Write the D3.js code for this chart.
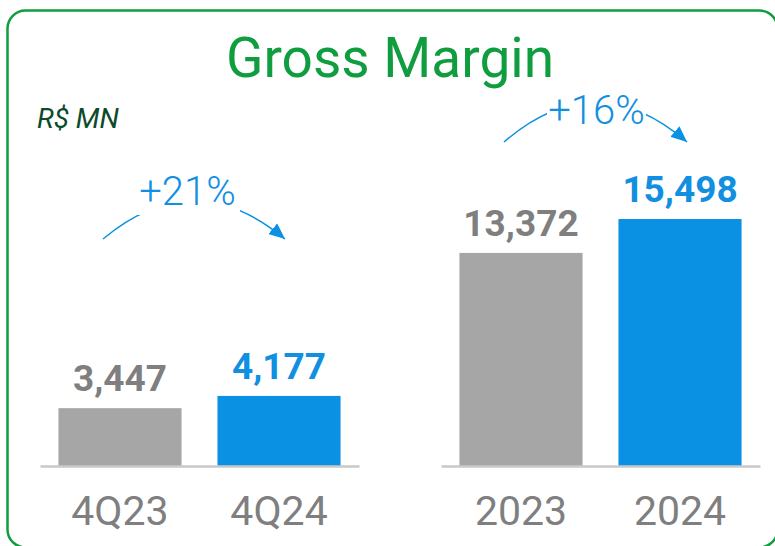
<!DOCTYPE html>
<html>
<head>
<meta charset="utf-8">
<script src="https://cdn.jsdelivr.net/npm/d3@7"></script>
<style>
  html, body { margin: 0; padding: 0; background: #ffffff; }
  svg { display: block; font-family: Roboto, "Noto Sans", sans-serif; }
</style>
</head>
<body>
<svg id="chart" width="775" height="546"></svg>
<script>
// ---- data ----
const quarterCategories = ["4Q23", "4Q24"];
const quarterValues = [3447, 4177];
const yearCategories = ["2023", "2024"];
const yearValues = [13372, 15498];
const growthLabels = ["+21%", "+16%"];
const titleText = "Gross Margin";
const unitText = "R$ MN";

// ---- styles ----
const GREEN = "#0f9d3f";
const DARK_GREEN = "#0c4a2c";
const GRAY_BAR = "#a6a6a6";
const GRAY_TEXT = "#7f7f7f";
const BLUE = "#0a91e3";
const BLUE_TEXT = "#118fe0";
const barColors = [GRAY_BAR, BLUE];
const labelColors = [GRAY_TEXT, BLUE_TEXT];

const svg = d3.select("#chart");

// frame
svg.append("rect")
  .attr("x", 7.5).attr("y", 10.5)
  .attr("width", 770).attr("height", 537)
  .attr("rx", 18).attr("ry", 18)
  .attr("fill", "none")
  .attr("stroke", GREEN)
  .attr("stroke-width", 2.5);

// title
svg.append("text")
  .attr("x", 390).attr("y", 77)
  .attr("text-anchor", "middle")
  .attr("font-size", 55)
  .attr("font-weight", 400)
  .attr("fill", GREEN)
  .text(titleText);

svg.append("text")
  .attr("x", 37).attr("y", 128)
  .attr("font-size", 28)
  .attr("font-style", "italic")
  .attr("fill", DARK_GREEN)
  .text(unitText);

// arrow marker
svg.append("defs").append("marker")
  .attr("id", "arrowhead")
  .attr("markerUnits", "userSpaceOnUse")
  .attr("viewBox", "0 0 16 14")
  .attr("markerWidth", 16).attr("markerHeight", 14)
  .attr("refX", 16).attr("refY", 7)
  .attr("orient", "auto")
  .append("path")
  .attr("d", "M0,0 L16,7 L0,14 Z")
  .attr("fill", BLUE);

const baseline = 466;

const panels = [
  { cats: quarterCategories, vals: quarterValues, growth: growthLabels[0],
    xRange: [40, 359], yDomainMax: 5000, yPx: 5000 * 0.01678,
    arc: { x0: 103, x1: 285, yEnd: 239, lift: 76 }, gTextY: 205, gap: [135, 240] },
  { cats: yearCategories, vals: yearValues, growth: growthLabels[1],
    xRange: [441, 760], yDomainMax: 20000, yPx: 20000 * 0.015935,
    arc: { x0: 504, x1: 687, yEnd: 142, lift: 79 }, gTextY: 124, gap: [547, 646] }
];

panels.forEach(p => {
  const x = d3.scaleBand()
    .domain(p.cats)
    .range(p.xRange)
    .paddingInner(0.226)
    .paddingOuter(0.116);
  const y = d3.scaleLinear()
    .domain([0, p.yDomainMax])
    .range([baseline, baseline - p.yPx]);

  const g = svg.append("g");

  g.selectAll("rect.bar")
    .data(p.vals)
    .join("rect")
    .attr("class", "bar")
    .attr("x", (d, i) => x(p.cats[i]))
    .attr("y", d => y(d))
    .attr("width", x.bandwidth())
    .attr("height", d => baseline - y(d))
    .attr("fill", (d, i) => barColors[i]);

  g.selectAll("text.val")
    .data(p.vals)
    .join("text")
    .attr("class", "val")
    .attr("x", (d, i) => x(p.cats[i]) + x.bandwidth() / 2)
    .attr("y", d => y(d) - 17)
    .attr("text-anchor", "middle")
    .attr("font-size", 37)
    .attr("font-weight", 700)
    .attr("fill", (d, i) => labelColors[i])
    .text(d => d3.format(",")(d));

  const axis = g.append("g")
    .attr("transform", `translate(0,${baseline})`)
    .call(d3.axisBottom(x).tickSize(0).tickSizeOuter(0).tickPadding(30));
  axis.select(".domain")
    .attr("stroke", "#c9c9c9")
    .attr("stroke-width", 2.5);
  axis.selectAll(".tick text")
    .attr("font-family", "Roboto, sans-serif")
    .attr("font-size", 41)
    .attr("fill", GRAY_TEXT);

  // growth arc
  const a = p.arc;
  const cx = (a.x0 + a.x1) / 2;
  const cy = a.yEnd - a.lift;
  g.append("path")
    .attr("d", `M${a.x0},${a.yEnd} Q${cx},${cy} ${a.x1},${a.yEnd}`)
    .attr("fill", "none")
    .attr("stroke", BLUE)
    .attr("stroke-width", 1.5)
    .attr("marker-end", "url(#arrowhead)");
  g.append("rect")
    .attr("x", p.gap[0]).attr("y", p.gTextY - 40)
    .attr("width", p.gap[1] - p.gap[0]).attr("height", 50)
    .attr("fill", "#ffffff");
  g.append("text")
    .attr("x", (p.gap[0] + p.gap[1]) / 2)
    .attr("y", p.gTextY)
    .attr("text-anchor", "middle")
    .attr("font-size", 40)
    .attr("font-weight", 300)
    .attr("fill", BLUE_TEXT)
    .text(p.growth);
});
</script>
</body>
</html>
